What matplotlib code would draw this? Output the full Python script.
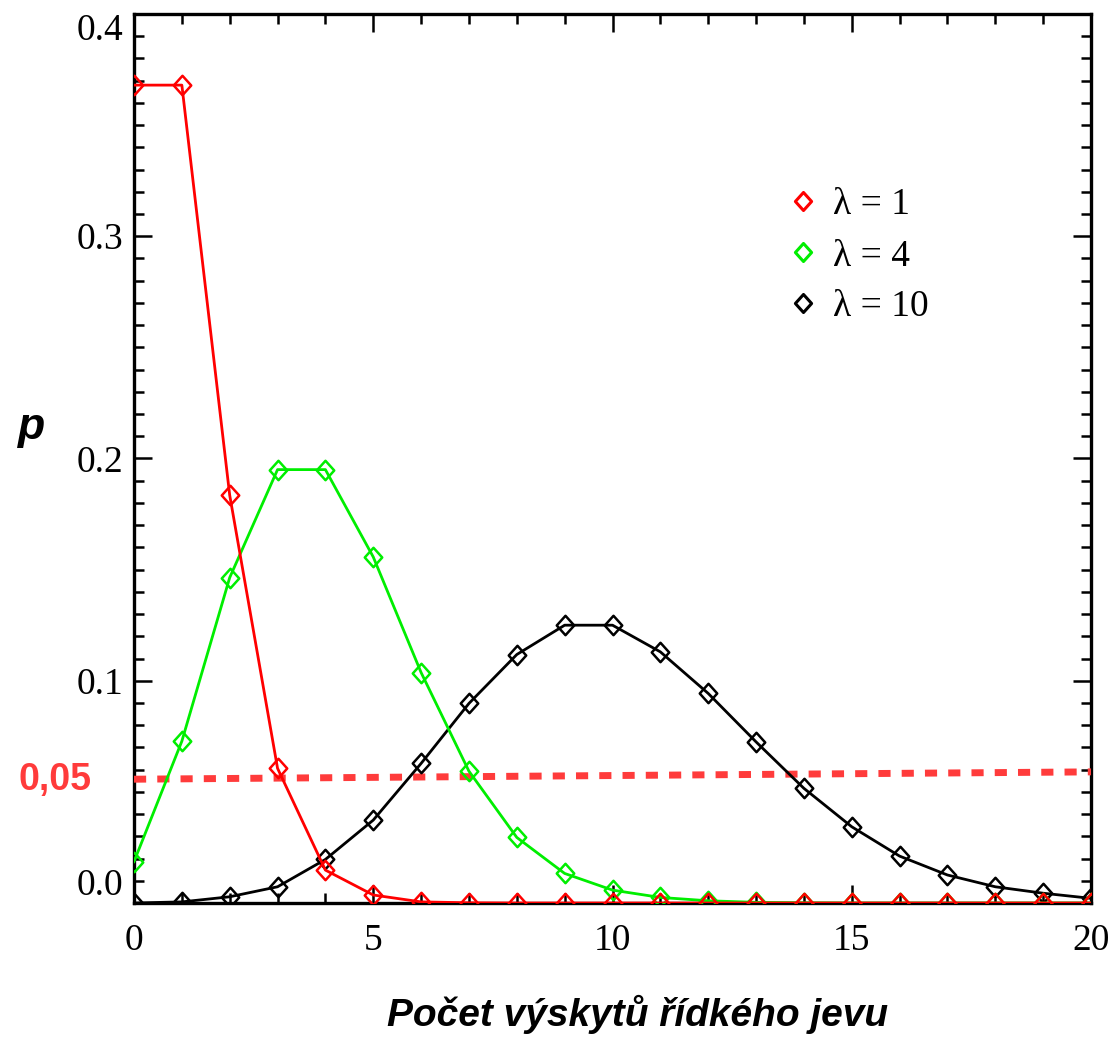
import matplotlib
matplotlib.use("Agg")
import matplotlib.pyplot as plt
from matplotlib.path import Path
from matplotlib.lines import Line2D
from matplotlib.ticker import MultipleLocator

# ---- data ----
k_values = list(range(21))
p_lambda1 = [0.368, 0.368, 0.1835, 0.0606, 0.0148, 0.0036, 0.0005, 0.0001, 0.0, 0.0,
             0.0, 0.0, 0.0, 0.0, 0.0, 0.0, 0.0, 0.0, 0.0, 0.0, 0.0]
p_lambda4 = [0.0186, 0.0728, 0.1464, 0.195, 0.195, 0.1557, 0.1037, 0.0593, 0.0295, 0.0133,
             0.0058, 0.0025, 0.001, 0.0003, 0.0001, 0.0, 0.0, 0.0, 0.0, 0.0, 0.0]
p_lambda10 = [0.0, 0.0005, 0.0028, 0.0073, 0.0196, 0.0373, 0.0628, 0.0898, 0.1118, 0.125,
              0.125, 0.113, 0.0943, 0.0725, 0.0516, 0.0343, 0.0211, 0.0126, 0.0073, 0.0044, 0.0021]
series_labels = ["λ = 1", "λ = 4", "λ = 10"]
threshold_x = [0, 20]
threshold_y = [0.0557, 0.0590]
threshold_label = "0,05"
xtick_values = [0, 5, 10, 15, 20]
xtick_labels = ["0", "5", "10", "15", "20"]
ytick_values = [0.0, 0.1, 0.2, 0.3, 0.4]
ytick_labels = ["0.0", "0.1", "0.2", "0.3", "0.4"]
xlabel_text = "Počet výskytů řídkého jevu"
ylabel_text = "p"

# ---- style ----
RED = "#ff0000"
GREEN = "#00ee00"
BLACK = "#000000"
DASH_RED = "#ff3b3b"
SERIF = "Liberation Serif"
SANS = "Liberation Sans"

diamond = Path([(0, 1), (0.9, 0), (0, -1), (-0.9, 0), (0, 1)],
               [Path.MOVETO, Path.LINETO, Path.LINETO, Path.LINETO, Path.CLOSEPOLY])

W, H = 1112, 1037
fig = plt.figure(figsize=(W / 100, H / 100), dpi=100)
ax = fig.add_axes([134 / W, (H - 903) / H, (1091 - 134) / W, (903 - 14) / H])

ax.plot(threshold_x, threshold_y, color=DASH_RED, lw=5, dashes=(1.75, 1.6),
        solid_capstyle="butt", dash_capstyle="butt", zorder=2.6)

mk = dict(marker=diamond, markersize=14, markerfacecolor="none", markeredgewidth=1.8,
          lw=2.0, zorder=3)
ax.plot(k_values, p_lambda10, color=BLACK, markeredgecolor=BLACK, **mk)
ax.plot(k_values, p_lambda4, color=GREEN, markeredgecolor=GREEN, **mk)
ax.plot(k_values, p_lambda1, color=RED, markeredgecolor=RED, **mk)

ax.set_xlim(0, 20)
ax.set_ylim(0, 0.4)
ax.set_xticks(xtick_values)
ax.set_xticklabels(xtick_labels, fontfamily=SERIF, fontsize=27)
ax.set_yticks(ytick_values)
ax.set_yticklabels(ytick_labels, fontfamily=SERIF, fontsize=27)
ax.xaxis.set_minor_locator(MultipleLocator(1))
ax.yaxis.set_minor_locator(MultipleLocator(0.01))
ax.tick_params(which="both", direction="in", top=True, right=True, width=1.8)
ax.tick_params(which="major", length=13)
ax.tick_params(which="minor", length=7)
ax.tick_params(axis="x", which="major", pad=15)
ax.tick_params(axis="y", which="major", pad=8)
for s in ax.spines.values():
    s.set_linewidth(2.4)

ylabs = ax.get_yticklabels()
ylabs[0].set_va("bottom")
ylabs[-1].set_va("top")

ax.set_xlabel(xlabel_text, fontfamily=SANS, fontweight="bold", fontstyle="italic",
              fontsize=28, va="baseline")
ax.xaxis.set_label_coords((637.5 - 134) / 957, (903 - 1026) / 889)
ax.set_ylabel(ylabel_text, fontfamily=SANS, fontweight="bold", fontstyle="italic",
              fontsize=32, rotation=0, ha="center", va="center")
ax.yaxis.set_label_coords((32 - 134) / 957, (903 - 428) / 889)

fig.text(18 / W, 1 - 790 / H, threshold_label, color=DASH_RED, fontfamily=SANS,
         fontweight="bold", fontsize=27, ha="left", va="baseline")

handles = [Line2D([], [], linestyle="none", marker=diamond, markersize=13,
                  markerfacecolor="none", markeredgewidth=2.2, markeredgecolor=c)
           for c in (RED, GREEN, BLACK)]
ax.legend(handles, series_labels, loc="upper left", bbox_to_anchor=(788 / W, 1 - 188 / H),
          bbox_transform=fig.transFigure, frameon=False, borderpad=0, borderaxespad=0,
          handlelength=0.8, handletextpad=0.4, labelspacing=0.44,
          prop=dict(family=SERIF, size=27))

fig.savefig("out.png", dpi=100)
